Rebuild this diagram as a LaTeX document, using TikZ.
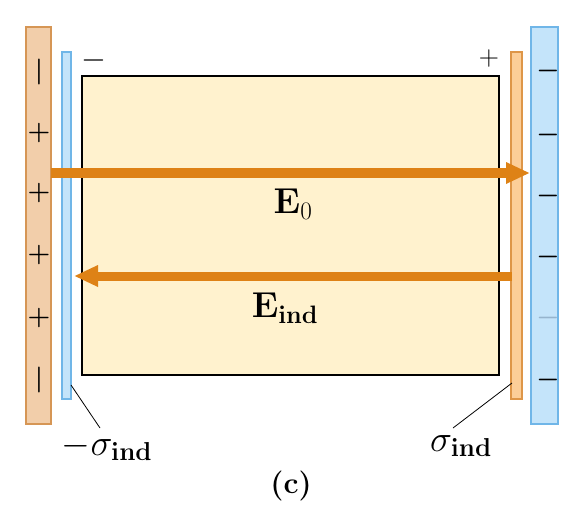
\RequirePackage{fix-cm}
\documentclass[tikz,border=0pt]{standalone}
\usetikzlibrary{arrows.meta}
\definecolor{platepeach}{RGB}{242,206,170}
\definecolor{peachedge}{RGB}{214,150,85}
\definecolor{stripblue}{RGB}{196,228,250}
\definecolor{blueedge}{RGB}{112,182,232}
\definecolor{stripamber}{RGB}{252,206,152}
\definecolor{amberedge}{RGB}{222,150,72}
\definecolor{slabyellow}{RGB}{255,242,206}
\definecolor{fieldorange}{RGB}{222,130,22}
\definecolor{faintminus}{RGB}{150,180,205}
\begin{document}
\begin{tikzpicture}[
		x=1pt, y=-1pt,
		plate/.style={line width=1.2pt},
		field/.style={
			draw=fieldorange,
			-{Triangle[length=24pt,width=20pt]}
		},
		chargesign/.style={
			inner sep=0pt,
			font=\fontsize{26}{30}\selectfont\boldmath
		},
		fieldlabel/.style={
			inner sep=0pt,
			font=\fontsize{36}{42}\selectfont
		},
		sigmalabel/.style={
			inner sep=0pt,
			font=\fontsize{37}{44}\selectfont
		},
		leader/.style={line width=0.8pt}
		]
		
		\useasboundingbox (0,0) rectangle (571,515);
		
		\draw[plate, fill=platepeach, draw=peachedge] (26,27) rectangle (51,424);
		\draw[plate, fill=stripblue, draw=blueedge] (62,52) rectangle (71,399);
		\draw[line width=1.5pt, fill=slabyellow] (82,76) rectangle (499,375);
		\draw[plate, fill=stripamber, draw=amberedge] (511,52) rectangle (522,399);
		\draw[plate, fill=stripblue, draw=blueedge] (531,27) rectangle (558,424);
		
		\coordinate (e0start) at (51,173);
		\coordinate (e0end) at (530,173);
		\coordinate (eindstart) at (512,276);
		\coordinate (eindend) at (74,276);
		\draw[field, line width=10pt] (e0start) -- (e0end);
		\draw[field, line width=9pt] (eindstart) -- (eindend);
		
		\foreach \y/\s [count=\i] in {72/\vert, 133/+, 193/+, 255/+, 318/+, 380/\vert}
			\node[chargesign] (lsign\i) at (39,\y) {$\s$};
		\foreach \y/\c [count=\i] in {71/black, 135/black, 196/black, 257/black, 318/faintminus, 380/black}
			\node[chargesign, text=\c] (rsign\i) at (548,\y) {$-$};
		
		\node[chargesign, font=\fontsize{32}{36}\selectfont] (slabminus) at (94,60) {$-$};
		\node[chargesign, font=\fontsize{28}{32}\selectfont] (slabplus) at (489,58) {$+$};
		
		\node[fieldlabel] (ezero) at (293,204) {$\mathbf{E}_0$};
		\node[fieldlabel] (eind) at (285,308) {$\mathbf{E}_{\mathbf{ind}}$};
		
		\coordinate (stripL) at (71,385);
		\coordinate (stripR) at (512,383);
		\coordinate (tipL) at (100,428);
		\coordinate (tipR) at (453,428);
		\node[sigmalabel] (sigmaL) at (107,447) {$-\sigma_{\mathbf{ind}}$};
		\node[sigmalabel] (sigmaR) at (461,446) {$\sigma_{\mathbf{ind}}$};
		\draw[leader] (stripL) -- (tipL);
		\draw[leader] (stripR) -- (tipR);
		
		\node[fieldlabel, font=\fontsize{30}{34}\selectfont\bfseries] (caption) at (291,486) {(c)};
		
	\end{tikzpicture}
\end{document}
